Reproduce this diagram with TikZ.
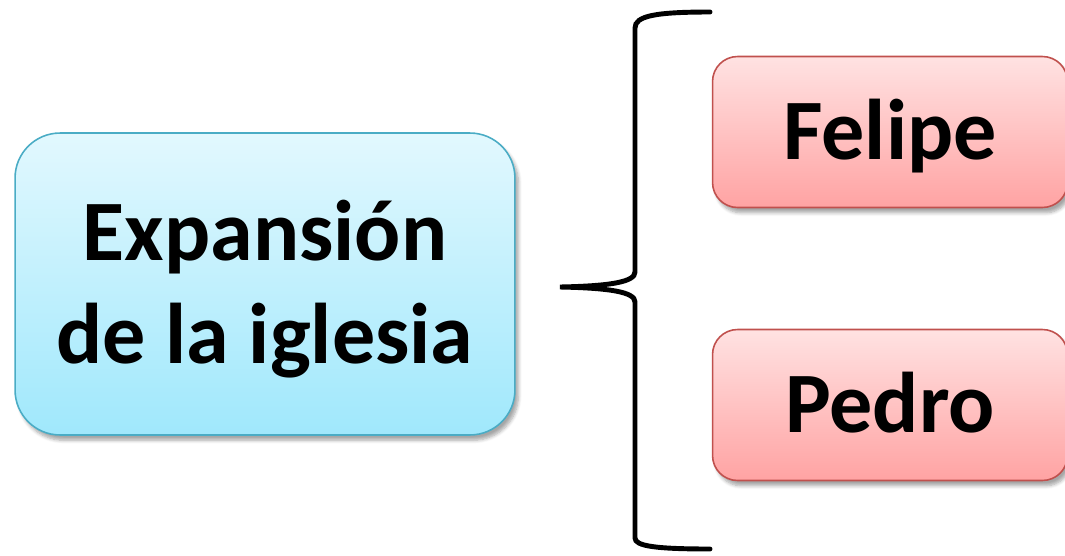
\documentclass[tikz,border=0pt]{standalone}
\usepackage{fontspec}
\setmainfont{Carlito}
\usetikzlibrary{shadows.blur}
\definecolor{bluetop}{HTML}{E2F8FE}
\definecolor{bluebot}{HTML}{A0E8FC}
\definecolor{blueline}{HTML}{4AACC5}
\definecolor{redtop}{HTML}{FFE2E2}
\definecolor{redbot}{HTML}{FFA3A3}
\definecolor{redline}{HTML}{C0504D}
\begin{document}
\begin{tikzpicture}[x=0.02cm,y=-0.02cm,
    topicbox/.style={rounded corners=0.9cm, draw=blueline, line width=0.9pt,
        top color=bluetop, bottom color=bluebot,
        blur shadow={shadow xshift=2pt, shadow yshift=-3pt, shadow opacity=35, shadow blur steps=6},
        minimum width=10cm, minimum height=6.04cm, align=center,
        font=\fontsize{49}{58.6}\selectfont\bfseries},
    namebox/.style={rounded corners=0.5cm, draw=redline, line width=0.9pt,
        top color=redtop, bottom color=redbot,
        blur shadow={shadow xshift=2pt, shadow yshift=-3pt, shadow opacity=35, shadow blur steps=6},
        minimum width=7.1cm, minimum height=3.02cm, text height=1.5cm, text depth=0.4cm,
        font=\fontsize{49}{57}\selectfont\bfseries}]
    \useasboundingbox (0,0) rectangle (1065,555);
    \node[topicbox] (expansion) at (265,284) {\rule{0pt}{1.4cm}Expansión\\de la iglesia};
    \node[namebox] (felipe) at (890,132) {Felipe};
    \node[namebox] (pedro) at (890,405) {Pedro};
    % brace
    \draw[line width=2.8pt, line cap=round] (710,12) .. controls (655,12) and (635,16) .. (635,28)
        -- (635,272) .. controls (635,282) and (610,286) .. (560,287)
        .. controls (610,288) and (635,292) .. (635,302)
        -- (635,538) .. controls (635,546) and (655,549) .. (710,549);
\end{tikzpicture}
\end{document}
